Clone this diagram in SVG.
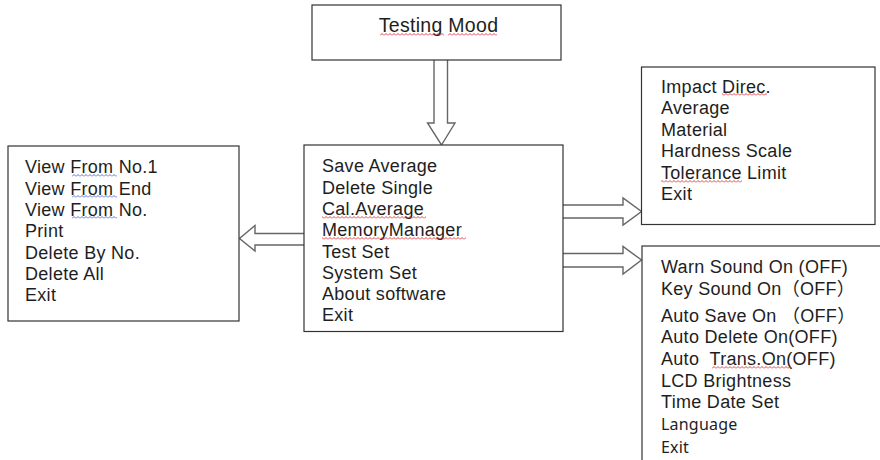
<svg xmlns="http://www.w3.org/2000/svg" width="880" height="460" viewBox="0 0 880 460">
<defs>
<pattern id="sqR" patternUnits="userSpaceOnUse" width="4" height="3"><path d="M0,2.5 L2,0.5 L4,2.5" fill="none" stroke="#e03030" stroke-width="0.9"/></pattern>
<pattern id="sqB" patternUnits="userSpaceOnUse" width="4" height="3"><path d="M0,2.5 L2,0.5 L4,2.5" fill="none" stroke="#4a66d0" stroke-width="0.9"/></pattern>
</defs>
<style>
.box{fill:#fff;stroke:#333;stroke-width:1.2}
.arrow{fill:#fff;stroke:#666;stroke-width:1.4;stroke-linejoin:miter}
text{font-family:"Liberation Sans",Arial,"Noto Sans CJK SC",sans-serif;font-size:18px;letter-spacing:0.3px;fill:#1e1e1e;white-space:pre}
.title{font-size:19.5px}
.cal{font-family:"Noto Sans","Open Sans",sans-serif;font-size:16px;letter-spacing:0.2px;fill:#1e1e28}
</style>
<rect width="880" height="460" fill="#fff"/>
<g id="connectors">
<path class="arrow" d="M434,60 L434,123 L427.5,123 L441.5,145 L455,123 L447.5,123 L447.5,60"/>
<path class="arrow" d="M304,233.5 L255,233.5 L255,225.5 L239.5,238.5 L255,251 L255,245 L304,245"/>
<path class="arrow" d="M563,205 L623,205 L623,198 L641.5,211.5 L623,225 L623,218 L563,218"/>
<path class="arrow" d="M563,253.5 L623,253.5 L623,246.5 L641.5,260 L623,274 L623,267 L563,267"/>
</g>
<g id="testing-mood">
<rect class="box" x="312" y="5" width="249" height="55"/>
<text class="title" x="438.5" y="31.5" text-anchor="middle">Testing Mood</text>
<rect x="380" y="33" width="64" height="3" fill="url(#sqR)"/>
<rect x="448" y="33" width="49" height="3" fill="url(#sqR)"/>
</g>
<g id="main-menu">
<rect class="box" x="304" y="145" width="259" height="186.5"/>
<text x="322" y="172.3">Save Average</text>
<text x="322" y="193.6">Delete Single</text>
<text x="322" y="214.9">Cal.Average</text>
<text x="322" y="236.2">MemoryManager</text>
<text x="322" y="257.5">Test Set</text>
<text x="322" y="278.8">System Set</text>
<text x="322" y="300.1">About software</text>
<text x="322" y="321.4">Exit</text>
<rect x="322" y="216" width="104" height="3" fill="url(#sqR)"/>
<rect x="322" y="237" width="144" height="3" fill="url(#sqR)"/>
</g>
<g id="memory-menu">
<rect class="box" x="8" y="146" width="231" height="175"/>
<text x="25" y="173.3">View From No.1</text>
<text x="25" y="194.6">View From End</text>
<text x="25" y="215.9">View From No.</text>
<text x="25" y="237.2">Print</text>
<text x="25" y="258.5">Delete By No.</text>
<text x="25" y="279.8">Delete All</text>
<text x="25" y="301.1">Exit</text>
<rect x="72" y="174" width="45" height="3" fill="url(#sqB)"/>
<rect x="72" y="195" width="45" height="3" fill="url(#sqB)"/>
<rect x="72" y="216" width="45" height="3" fill="url(#sqB)"/>
</g>
<g id="test-set-menu">
<rect class="box" x="641.5" y="67" width="233.5" height="157.5"/>
<text x="661" y="93">Impact Direc.</text>
<text x="661" y="114.4">Average</text>
<text x="661" y="135.8">Material</text>
<text x="661" y="157.2">Hardness Scale</text>
<text x="661" y="178.6">Tolerance Limit</text>
<text x="661" y="200">Exit</text>
<rect x="722" y="93" width="45" height="3" fill="url(#sqR)"/>
<rect x="661" y="180" width="81" height="3" fill="url(#sqR)"/>
</g>
<g id="system-set-menu">
<rect class="box" x="642" y="246" width="245" height="230"/>
<text x="661" y="273">Warn Sound On (OFF)</text>
<text x="661" y="295">Key Sound On（OFF）</text>
<text x="661" y="322">Auto Save On （OFF）</text>
<text x="661" y="343">Auto Delete On(OFF)</text>
<text x="661" y="365">Auto  Trans.On(OFF)</text>
<text x="661" y="387">LCD Brightness</text>
<text x="661" y="408">Time Date Set</text>
<text class="cal" x="661" y="430">Language</text>
<text class="cal" x="661" y="453">Exit</text>
<rect x="712" y="366" width="80" height="3" fill="url(#sqR)"/>
</g>
</svg>
